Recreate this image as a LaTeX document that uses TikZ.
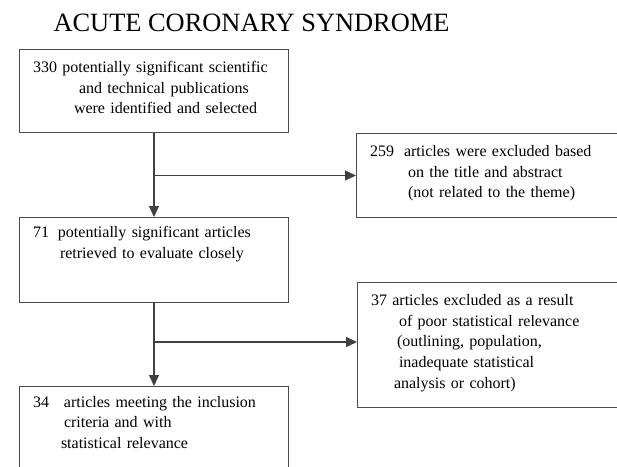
\documentclass[tikz,border=0pt]{standalone}
\usepackage{fontspec}
\setmainfont{Liberation Serif}
\usetikzlibrary{arrows.meta}
\begin{document}
\begin{tikzpicture}
  [x=1pt,y=-1pt,
   every node/.style={text=black},
   box/.style={draw=black!70,line width=1pt,anchor=north west,align=left,
     inner xsep=13.5pt,inner ysep=12pt,text height=11pt,
     font=\fontsize{16}{20.7}\selectfont},
   link/.style={draw=black!75,line width=1.1pt},
   arr/.style={link,-{Triangle[length=11pt,width=10pt]}}]
  \useasboundingbox (0,0) rectangle (617,466);
  \clip (0,0) rectangle (617,466);

  \node[anchor=base west,font=\fontsize{26.4}{30}\selectfont] (title) at (50,31.5) {ACUTE CORONARY SYNDROME};

  \node[box,text width=242pt,text depth=48pt] (b1) at (19,49)
    {330 potentially significant scientific\\
     \hspace*{46pt}and technical publications\\
     \hspace*{41pt}were identified and selected};
  \node[box,text width=320pt,text depth=49pt] (b2) at (356,133)
    {259\hspace{10pt}articles were excluded based\\
     \hspace*{38pt}on the title and abstract\\
     \hspace*{38pt}(not related to the theme)};
  \node[box,text width=242pt,text height=8pt,text depth=53pt] (b3) at (19,217)
    {71\hspace{9pt}potentially significant articles\\
     \hspace*{27pt}retrieved to evaluate closely};
  \node[box,text width=320pt,text depth=90pt] (b4) at (357,282)
    {37 articles excluded as a result\\
     \hspace*{28pt}of poor statistical relevance\\
     \hspace*{26pt}(outlining, population,\\
     \hspace*{28pt}inadequate statistical\\
     \hspace*{23pt}analysis or cohort)};
  \node[box,text width=242pt,text height=8.5pt,text depth=57pt] (b5) at (19,386)
    {34\hspace{15pt}articles meeting the inclusion\\
     \hspace*{31pt}criteria and with\\
     \hspace*{28pt}statistical relevance};

  \coordinate (j1) at (b1.south |- b2.west);
  \coordinate (j2) at (b3.south |- 0,342);

  \draw[arr] (b1.south) -- (b3.north);
  \draw[arr] (j1) -- (b2.west);
  \draw[arr] (b3.south) -- (b5.north);
  \draw[arr] (j2) -- (j2 -| b4.west);
\end{tikzpicture}
\end{document}
